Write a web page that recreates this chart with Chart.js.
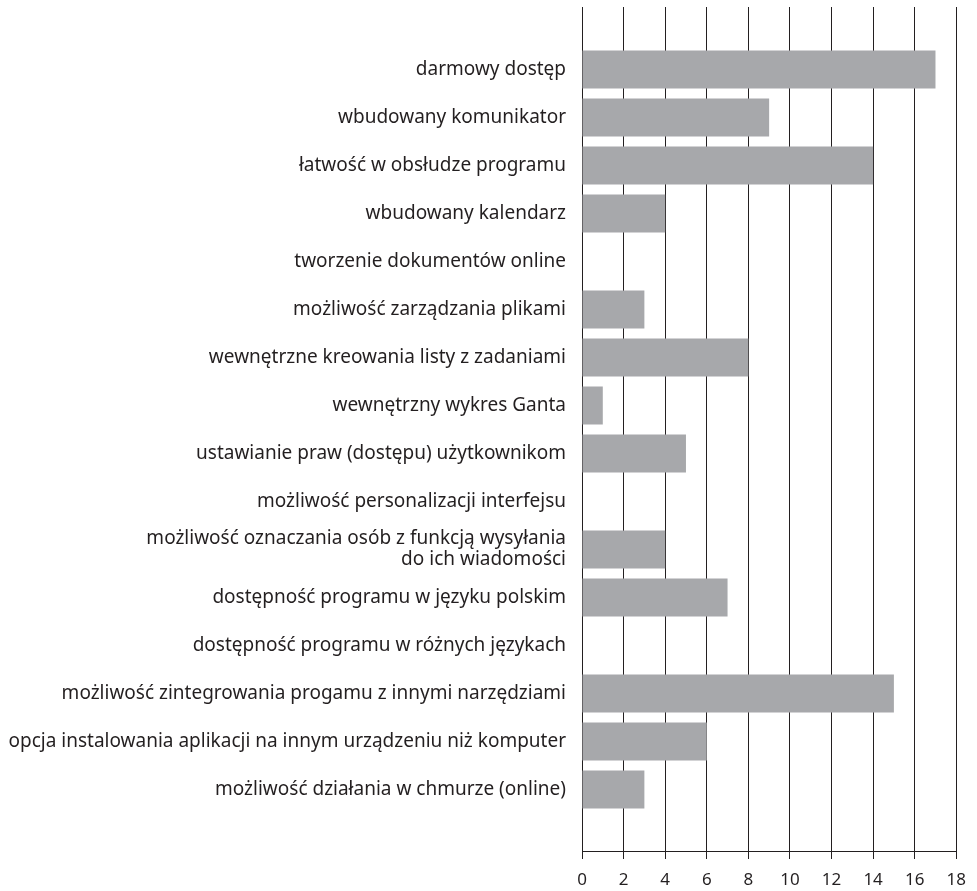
<!DOCTYPE html>
<html>
<head>
<meta charset="utf-8">
<script src="https://cdn.jsdelivr.net/npm/chart.js@4"></script>
<style>
  html, body { margin: 0; padding: 0; background: #fff; }
  #wrap { width: 977px; height: 891px; }
</style>
</head>
<body>
<div id="wrap"><canvas id="features-chart"></canvas></div>
<script>
var features = [
  'darmowy dostęp',
  'wbudowany komunikator',
  'łatwość w obsłudze programu',
  'wbudowany kalendarz',
  'tworzenie dokumentów online',
  'możliwość zarządzania plikami',
  'wewnętrzne kreowania listy z zadaniami',
  'wewnętrzny wykres Ganta',
  'ustawianie praw (dostępu) użytkownikom',
  'możliwość personalizacji interfejsu',
  ['możliwość oznaczania osób z funkcją wysyłania', 'do ich wiadomości'],
  'dostępność programu w języku polskim',
  'dostępność programu w różnych językach',
  'możliwość zintegrowania progamu z innymi narzędziami',
  'opcja instalowania aplikacji na innym urządzeniu niż komputer',
  'możliwość działania w chmurze (online)'
];
var counts = [17, 9, 14, 4, 0, 3, 8, 1, 5, 0, 4, 7, 0, 15, 6, 3];
var countTicks = [0, 2, 4, 6, 8, 10, 12, 14, 16, 18];

var ink = '#231f20';
var points = counts.map(function(v, i) {
  return { x: v, y: i };
});

var ctx = document.getElementById('features-chart');
var featuresChart = new Chart(ctx, {
  type: 'bar',
  data: {
    datasets: [{
      data: points,
      backgroundColor: '#a7a8ab',
      borderWidth: 0,
      categoryPercentage: 1,
      barPercentage: 0.79
    }]
  },
  options: {
    indexAxis: 'y',
    responsive: true,
    maintainAspectRatio: false,
    animation: false,
    layout: { padding: { top: 7, right: 20, left: 0, bottom: 0 } },
    plugins: {
      legend: { display: false },
      tooltip: { enabled: false }
    },
    scales: {
      x: {
        type: 'linear',
        position: 'bottom',
        min: 0,
        max: 18,
        afterBuildTicks: function(scale) {
          scale.ticks = countTicks.map(function(v) { return { value: v }; });
        },
        afterFit: function(scale) { scale.height = 40; },
        grid: {
          color: ink,
          lineWidth: 1,
          drawTicks: true,
          tickLength: 8
        },
        border: { display: true, color: ink, width: 1 },
        ticks: {
          color: ink,
          padding: 11,
          font: { family: 'Noto Sans', size: 17 }
        }
      },
      y: {
        type: 'linear',
        reverse: true,
        offset: false,
        min: -1.3,
        max: 16.28,
        afterBuildTicks: function(scale) {
          scale.ticks = features.map(function(_, i) { return { value: i }; });
        },
        afterFit: function(scale) {
          scale.width = 582;
          scale.paddingTop = 0;
          scale.paddingBottom = 0;
        },
        grid: { display: false, drawTicks: false },
        border: { display: false },
        ticks: {
          autoSkip: false,
          color: ink,
          padding: 16,
          font: { family: 'Noto Sans', size: 19, lineHeight: 1.1 },
          callback: function(value) { return features[value]; }
        }
      }
    }
  }
});
</script>
</body>
</html>
